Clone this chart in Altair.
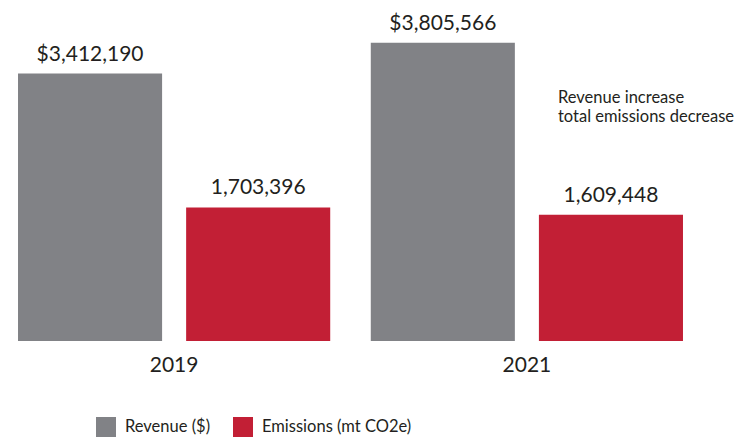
import altair as alt
import pandas as pd

years = ["2019", "2021"]
series = ["Revenue ($)", "Emissions (mt CO2e)"]
revenue = [3412190, 3805566]
emissions = [1703396, 1609448]
colors = ["#818286", "#C21F35"]
note = ["Revenue increase", "total emissions decrease"]

rows = []
for i, y in enumerate(years):
    rows.append({"year": y, "series": series[0], "value": revenue[i],
                 "label": "${:,}".format(revenue[i])})
    rows.append({"year": y, "series": series[1], "value": emissions[i],
                 "label": "{:,}".format(emissions[i])})
df = pd.DataFrame(rows)

FONT = "Lato"
x = alt.X("year:N", sort=years, title=None,
          scale=alt.Scale(paddingInner=0.115, paddingOuter=0.0284),
          axis=alt.Axis(labelAngle=0, domain=False, ticks=False, labelFontSize=21,
                        labelFont=FONT, labelColor="#231F20", labelPadding=13))
xo = alt.XOffset("series:N", sort=series,
                 scale=alt.Scale(paddingInner=0.143, paddingOuter=0))
y = alt.Y("value:Q", axis=None, scale=alt.Scale(domain=[0, 4248000], nice=False, zero=True))

bars = alt.Chart(df).mark_bar().encode(
    x=x, xOffset=xo, y=y,
    color=alt.Color("series:N", sort=series,
                    scale=alt.Scale(domain=series, range=colors),
                    legend=alt.Legend(title=None, orient="none", direction="horizontal",
                                      legendX=88, legendY=409, symbolType="square",
                                      symbolSize=400, symbolStrokeWidth=0,
                                      labelFontSize=16.5, labelFont=FONT, labelColor="#231F20",
                                      labelOffset=9, columnPadding=22, padding=0)),
)

labels = alt.Chart(df).mark_text(baseline="alphabetic", dy=-13, fontSize=21,
                                 font=FONT, color="#231F20").encode(
    x=x, xOffset=xo, y=y, text="label:N")

ann = alt.Chart(pd.DataFrame({"t": [note]})).mark_text(
    align="left", baseline="alphabetic", fontSize=16.5, font=FONT, color="#231F20",
    lineHeight=19).encode(x=alt.value(550), y=alt.value(95), text="t")

chart = alt.layer(bars, labels, ann).properties(
    width=685, height=333, padding=0
).configure_view(stroke=None)

chart.save("out.html", embed_options={"renderer": "svg", "actions": False})
